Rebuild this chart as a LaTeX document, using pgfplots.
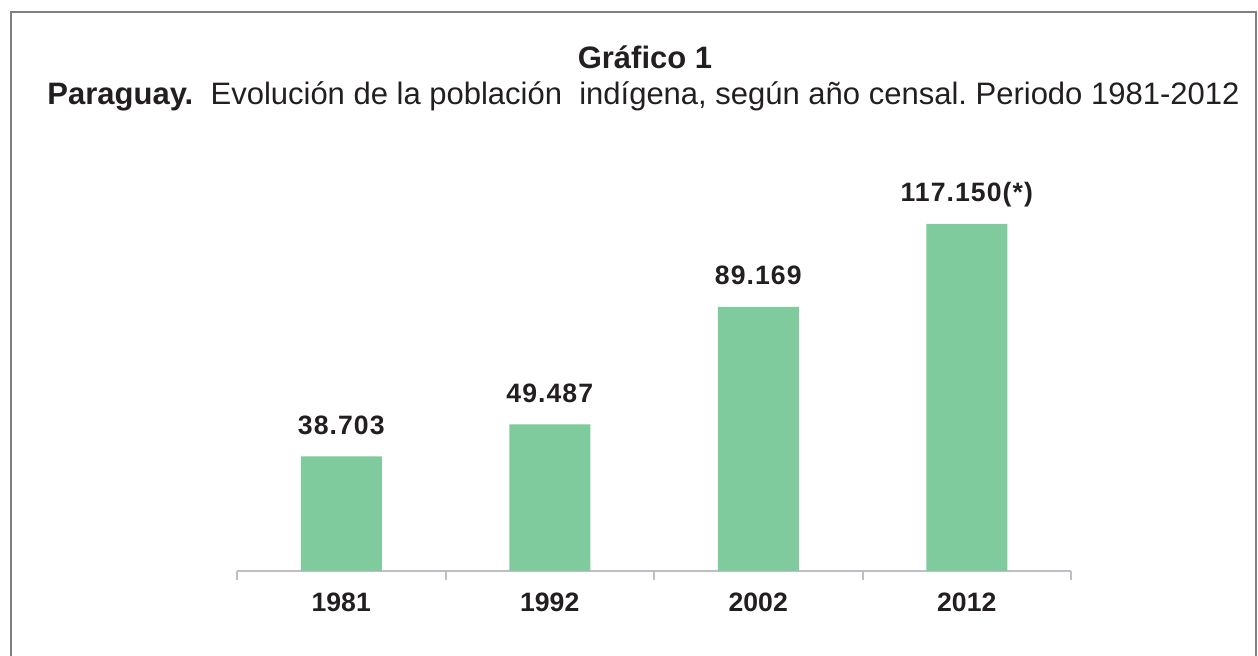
\documentclass[border=0pt]{standalone}
\usepackage{fontspec}
\setmainfont{Liberation Sans}
\usepackage{pgfplots}
\pgfplotsset{compat=1.18}
\definecolor{bargreen}{RGB}{128,203,157}
\definecolor{txt}{RGB}{35,31,32}
\definecolor{framegray}{RGB}{128,128,128}
\definecolor{axgray}{RGB}{190,190,196}
\frenchspacing
\begin{document}
\begin{tikzpicture}
\path[use as bounding box] (0,0) rectangle (629pt,-328pt);
\draw[framegray, line width=1pt] (5.35pt,-330pt) -- (5.35pt,-6pt) -- (628pt,-6pt) -- (628pt,-330pt);
\node[anchor=base, text=txt, font=\fontsize{15.5}{18}\selectfont\bfseries] at (322.5pt,-34.5pt) {Gráfico 1};
\node[anchor=base, text=txt, font=\fontsize{15.5}{18}\selectfont] at (321.75pt,-52.5pt) {\textbf{Paraguay.}\ \ Evolución de la población\ \ indígena, según año censal. Periodo 1981-2012};
\begin{axis}[
  at={(118.5pt,-285.5pt)}, anchor=south west,
  scale only axis, width=417pt, height=200pt,
  xmin=-0.5, xmax=3.5, ymin=0, ymax=135000,
  enlargelimits=false, clip=false,
  axis x line=bottom, axis y line=none,
  axis line style={draw=axgray, line width=1pt, -},
  xtick={0,1,2,3},
  xticklabels={\textbf{1981},\textbf{1992},\textbf{2002},\textbf{2012}},
  major tick length=0pt,
  minor xtick={-0.5,0.5,1.5,2.5,3.5},
  minor tick length=4.5pt,
  tick align=outside,
  minor tick style={draw=axgray, line width=1pt},
  xticklabel style={anchor=base, yshift=-20.5pt, inner sep=0pt, text=txt, font=\fontsize{13.3}{15}\selectfont\bfseries},
  ybar, bar width=40.5pt,
  point meta=explicit symbolic,
  nodes near coords,
  every node near coord/.append style={anchor=base, inner sep=0pt, yshift=11pt, text=txt, font=\fontsize{13.3}{15}\selectfont\bfseries\addfontfeature{LetterSpace=4}},
]
\addplot[fill=bargreen, draw=none] coordinates {
  (0,38703) [38.703]
  (1,49487) [49.487]
  (2,89169) [89.169]
  (3,117150) [117.150(*)]
};
\end{axis}
\end{tikzpicture}
\end{document}
